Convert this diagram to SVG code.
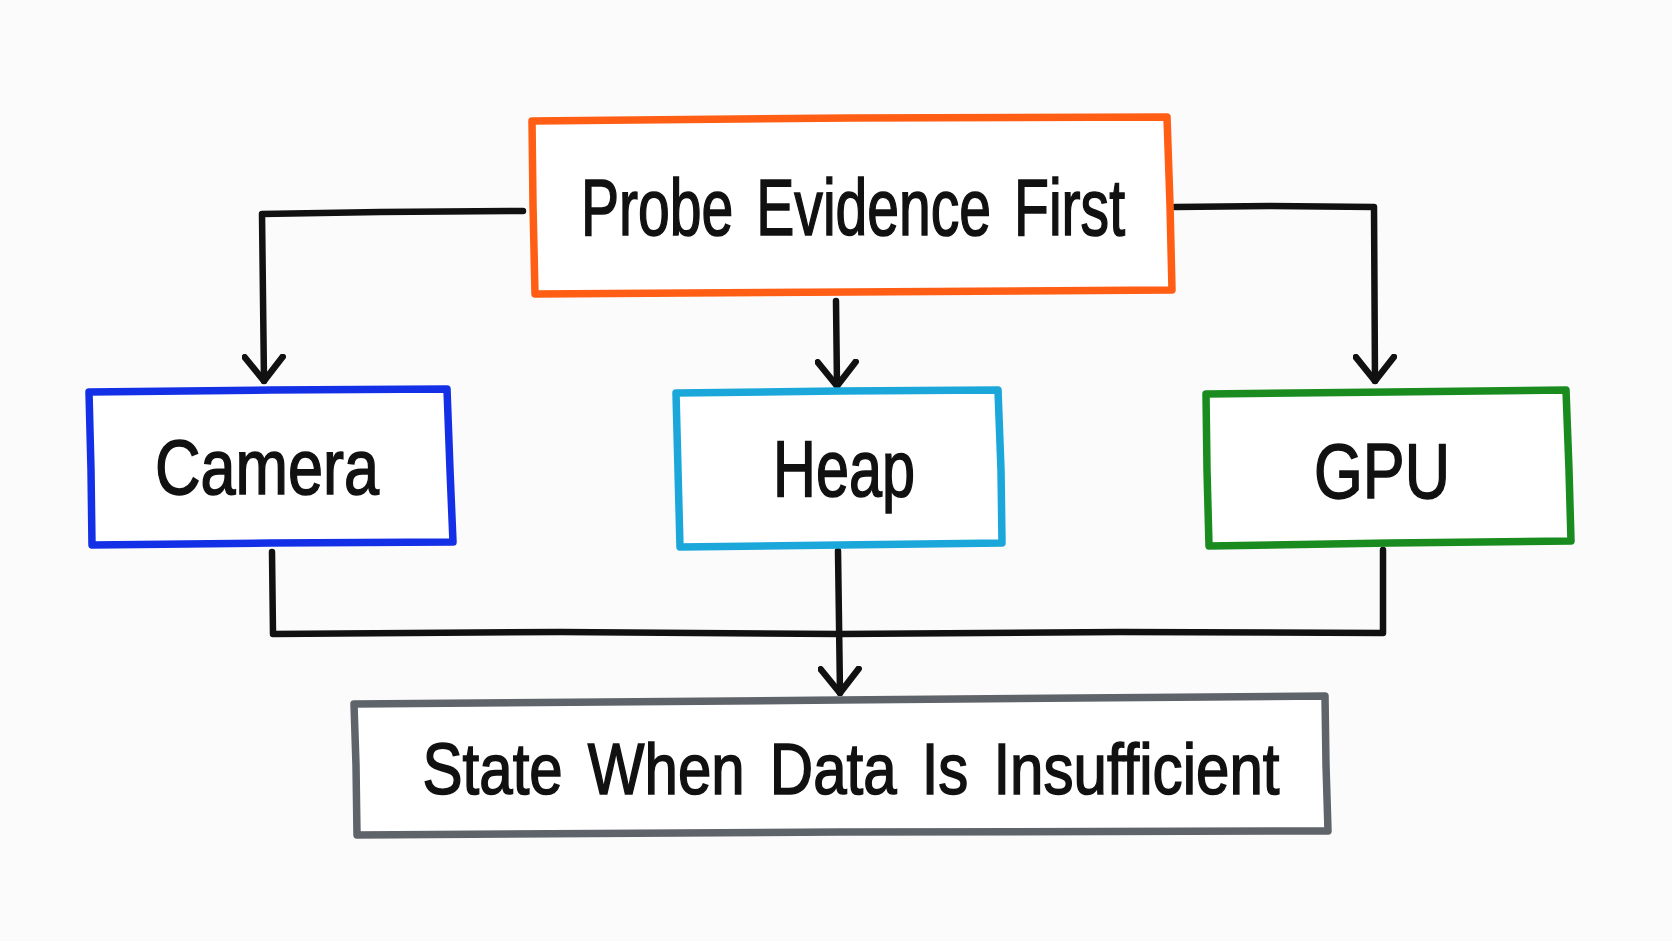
<svg xmlns="http://www.w3.org/2000/svg" width="1672" height="941" viewBox="0 0 1672 941">
<style>
.box{fill:#ffffff;stroke-width:7.5;stroke-linejoin:round;stroke-linecap:round}
.lbl{font-family:"Liberation Sans","DejaVu Sans",sans-serif;fill:#111111;stroke:#111111;stroke-width:1.6;text-anchor:middle;font-weight:normal;word-spacing:10px}
.wire{fill:none;stroke:#111111;stroke-width:6.5;stroke-linejoin:round;stroke-linecap:round}
</style>
<defs>
<marker id="arr" viewBox="0 0 30 44" refX="27" refY="22" markerWidth="30" markerHeight="44" markerUnits="userSpaceOnUse" orient="auto">
<path d="M3,3 L27,22 L3,41" fill="none" stroke="#111111" stroke-width="6.5" stroke-linecap="round" stroke-linejoin="round"/>
</marker>
</defs>
<rect width="1672" height="941" fill="#fbfbfb"/>
<g id="connectors">
<path class="wire" d="M523,211 L380,212 L262,214 L264,381" marker-end="url(#arr)"/>
<path class="wire" d="M1175,207 L1270,206 L1374,207 L1375,381" marker-end="url(#arr)"/>
<path class="wire" d="M836,301 L837,386" marker-end="url(#arr)"/>
<path class="wire" d="M272,552 L273,634 L560,632 L840,634 L1120,632 L1383,633 L1383,550"/>
<path class="wire" d="M838,551 L840,693" marker-end="url(#arr)"/>
</g>
<g id="node-probe">
<path class="box" stroke="#ff5e14" d="M532,121 L850,118 L1167,117 L1170,205 L1172,290 L850,292 L535,294 L533,205 Z"/>
<text class="lbl" x="853" y="235" font-size="80" textLength="544" lengthAdjust="spacingAndGlyphs">Probe Evidence First</text>
</g>
<g id="node-camera">
<path class="box" stroke="#1430e6" d="M89,392 L270,390 L447,389 L450,470 L453,542 L270,543 L92,545 L91,470 Z"/>
<text class="lbl" x="267" y="494" font-size="78" textLength="224" lengthAdjust="spacingAndGlyphs">Camera</text>
</g>
<g id="node-heap">
<path class="box" stroke="#1ba7da" d="M676,393 L840,391 L998,390 L1001,470 L1002,543 L840,545 L680,547 L678,470 Z"/>
<text class="lbl" x="844" y="496" font-size="80" textLength="142" lengthAdjust="spacingAndGlyphs">Heap</text>
</g>
<g id="node-gpu">
<path class="box" stroke="#1a8c1f" d="M1206,394 L1390,392 L1566,390 L1569,470 L1571,541 L1390,543 L1209,546 L1207,470 Z"/>
<text class="lbl" x="1382" y="498" font-size="78" textLength="136" lengthAdjust="spacingAndGlyphs">GPU</text>
</g>
<g id="node-state">
<path class="box" stroke="#5f646a" d="M354,704 L840,700 L1325,696 L1326,765 L1328,831 L840,832 L357,835 L356,765 Z"/>
<text class="lbl" x="851" y="794" font-size="72" textLength="857" lengthAdjust="spacingAndGlyphs">State When Data Is Insufficient</text>
</g>
</svg>
